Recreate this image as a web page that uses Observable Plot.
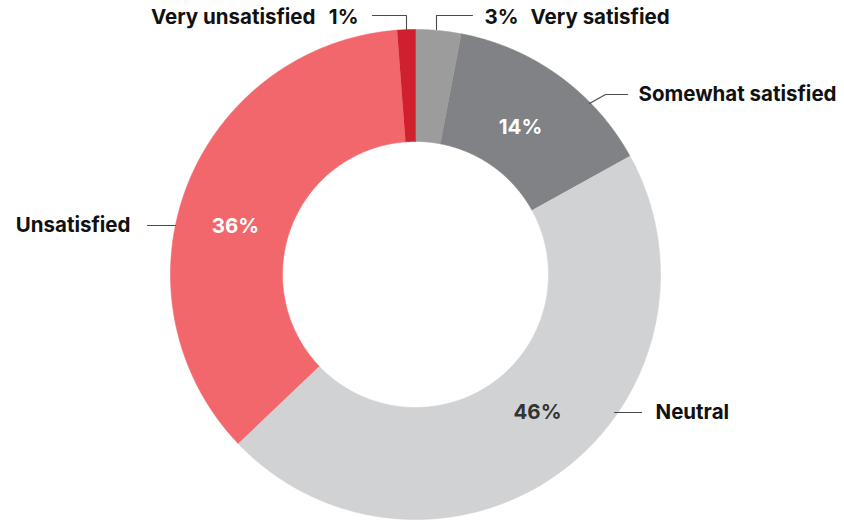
<!DOCTYPE html>
<html><head><meta charset="utf-8">
<script src="https://cdn.jsdelivr.net/npm/d3@7"></script>
<script src="https://cdn.jsdelivr.net/npm/@observablehq/plot@0.6"></script>
<style>body{margin:0;background:#fff}</style>
</head><body><div id="chart"></div>
<script>
// ---- data ----
const categories = ["Very satisfied", "Somewhat satisfied", "Neutral", "Unsatisfied", "Very unsatisfied"];
const values = [3, 14, 46, 36, 1.2];
const pctLabels = ["3%", "14%", "46%", "36%", "1%"];
const colors = ["#9c9c9c", "#808285", "#d1d2d4", "#f1676b", "#d0202e"];

// ---- layout (pixel offsets from the donut centre, y up) ----
const W = 844, H = 520, CX = 415, CY = 274, R = 245, R0 = 133;
const inside = [ // which percentages sit inside the ring
  {i: 1, x: 105, y: 147, fill: "#ffffff"},
  {i: 2, x: 122, y: -138, fill: "#333333"},
  {i: 3, x: -180, y: 48, fill: "#ffffff"}
];
const outsideStart = [
  {t: "3%", x: 69, y: 257},
  {t: "Very satisfied", x: 115, y: 257},
  {t: "Somewhat satisfied", x: 223, y: 180},
  {t: "Neutral", x: 240, y: -138}
];
const outsideEnd = [
  {t: "Very unsatisfied", x: -100, y: 257},
  {t: "1%", x: -57, y: 257},
  {t: "Unsatisfied", x: -285, y: 49}
];
const leaders = [
  [[-43, 259], [-9, 259], [-9, 245]],
  [[21, 245], [21, 259], [57, 259]],
  [[174, 171], [190, 180], [212, 180]],
  [[-268, 49], [-240, 49]],
  [[199, -138], [226, -138]]
];

// ---- geometry from data ----
const pie = d3.pie().sort(null).value(d => d.value);
const arcs = pie(categories.map((c, i) => ({cat: c, value: values[i]})));
const slicePts = [];
arcs.forEach(a => {
  const n = Math.max(8, Math.ceil((a.endAngle - a.startAngle) / 0.004));
  for (let k = 0; k <= n; k++) {
    const t = a.startAngle + (a.endAngle - a.startAngle) * k / n;
    slicePts.push({cat: a.data.cat, x: R * Math.sin(t), y: R * Math.cos(t)});
  }
  for (let k = n; k >= 0; k--) {
    const t = a.startAngle + (a.endAngle - a.startAngle) * k / n;
    slicePts.push({cat: a.data.cat, x: R0 * Math.sin(t), y: R0 * Math.cos(t)});
  }
});
const leaderPts = leaders.flatMap((l, j) => l.map(([x, y]) => ({j, x, y})));
const insideLabels = inside.map(d => ({...d, t: pctLabels[d.i]}));
const FS = 20.5;

const chart = Plot.plot({
  width: W, height: H,
  margin: 0,
  x: {domain: [-CX, W - CX], axis: null},
  y: {domain: [-(H - CY), CY], axis: null},
  color: {domain: categories, range: colors},
  style: {fontFamily: "Inter, 'Noto Sans', sans-serif", background: "#fff"},
  marks: [
    Plot.line(slicePts, {x: "x", y: "y", z: "cat", fill: "cat", stroke: "cat", strokeWidth: 0.6, curve: "linear"}),
    Plot.line(leaderPts, {x: "x", y: "y", z: "j", stroke: "#4a4a4a", strokeWidth: 1.1}),
    Plot.text(insideLabels, {x: "x", y: "y", text: "t", fill: "fill", fontSize: FS, fontWeight: 700, lineAnchor: "middle"}),
    Plot.text(outsideStart, {x: "x", y: "y", text: "t", textAnchor: "start", fill: "#111", fontSize: FS, fontWeight: 700, lineAnchor: "middle"}),
    Plot.text(outsideEnd, {x: "x", y: "y", text: "t", textAnchor: "end", fill: "#111", fontSize: FS, fontWeight: 700, lineAnchor: "middle"})
  ]
});
document.getElementById("chart").append(chart);
</script>
</body></html>
